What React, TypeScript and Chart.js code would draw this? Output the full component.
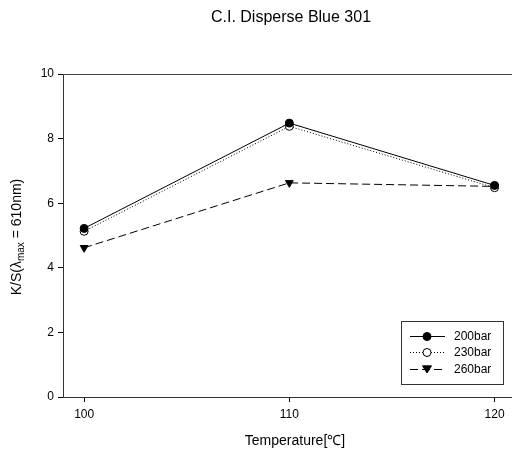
import React, { useEffect, useRef } from "react";
import { Chart, registerables } from "chart.js";

Chart.register(...registerables);

const temperatures = [100, 110, 120];
const bar200 = [5.22, 8.48, 6.55];
const bar230 = [5.13, 8.38, 6.48];
const bar260 = [4.62, 6.63, 6.52];
const seriesLabels = ["200bar", "230bar", "260bar"];
const xTicks = [100, 110, 120];

const FONT = "Arial, 'Liberation Sans', sans-serif";

const decorPlugin = {
  id: "decor",
  afterDraw(chart: any) {
    const ctx = chart.ctx as CanvasRenderingContext2D;
    const ca = chart.chartArea;
    ctx.save();
    // top border
    ctx.strokeStyle = "#444";
    ctx.lineWidth = 1;
    ctx.beginPath();
    ctx.moveTo(ca.left, Math.round(ca.top) + 0.5);
    ctx.lineTo(chart.width, Math.round(ca.top) + 0.5);
    ctx.stroke();

    // title
    ctx.fillStyle = "#000";
    ctx.font = `16px ${FONT}`;
    ctx.textAlign = "center";
    ctx.textBaseline = "middle";
    ctx.fillText("C.I. Disperse Blue 301", 291, 18);

    // x title
    ctx.font = `14px ${FONT}`;
    ctx.fillText("Temperature[℃]", 295, 441);

    // y title with subscript
    ctx.save();
    ctx.translate(16, 237);
    ctx.rotate(-Math.PI / 2);
    const p1 = "K/S(λ";
    const p2 = "max";
    const p3 = " = 610nm)";
    ctx.font = `14px ${FONT}`;
    const w1 = ctx.measureText(p1).width;
    const w3 = ctx.measureText(p3).width;
    ctx.font = `10px ${FONT}`;
    const w2 = ctx.measureText(p2).width;
    const total = w1 + w2 + w3;
    let x = -total / 2;
    ctx.textAlign = "left";
    ctx.textBaseline = "alphabetic";
    ctx.font = `14px ${FONT}`;
    ctx.fillText(p1, x, 5);
    x += w1;
    ctx.font = `10px ${FONT}`;
    ctx.fillText(p2, x, 8);
    x += w2;
    ctx.font = `14px ${FONT}`;
    ctx.fillText(p3, x, 5);
    ctx.restore();

    // legend
    const bx = 401.5, by = 321.5, bw = 102, bh = 63;
    ctx.strokeStyle = "#333";
    ctx.lineWidth = 1;
    ctx.strokeRect(bx, by, bw, bh);
    const rows = [336, 352, 369];
    chart.data.datasets.forEach((ds: any, i: number) => {
      const y = rows[i];
      ctx.save();
      ctx.strokeStyle = ds.borderColor;
      ctx.lineWidth = ds.borderWidth;
      ctx.setLineDash(ds.borderDash || []);
      ctx.beginPath();
      ctx.moveTo(410, y + 0.5);
      ctx.lineTo(445, y + 0.5);
      ctx.stroke();
      ctx.restore();
      ctx.save();
      ctx.fillStyle = ds.pointBackgroundColor;
      ctx.strokeStyle = ds.pointBorderColor;
      ctx.lineWidth = 1;
      if (ds.pointStyle === "triangle") {
        const r = 4.5;
        ctx.beginPath();
        ctx.moveTo(427 - r, y - r * 0.7);
        ctx.lineTo(427 + r, y - r * 0.7);
        ctx.lineTo(427, y + r * 0.9);
        ctx.closePath();
        ctx.fill();
        ctx.stroke();
      } else {
        ctx.beginPath();
        ctx.arc(427, y + 0.5, 4, 0, Math.PI * 2);
        ctx.fill();
        ctx.stroke();
      }
      ctx.restore();
      ctx.fillStyle = "#000";
      ctx.font = `12px ${FONT}`;
      ctx.textAlign = "left";
      ctx.textBaseline = "middle";
      ctx.fillText(ds.label, 454, y + 1);
    });
    ctx.restore();
  },
};

export default function App() {
  const ref = useRef<HTMLCanvasElement>(null);
  useEffect(() => {
    if (!ref.current) return;
    const mk = (vals: number[]) => temperatures.map((t, i) => ({ x: t, y: vals[i] }));
    const chart = new Chart(ref.current, {
      type: "line",
      data: {
        datasets: [
          {
            label: seriesLabels[0],
            data: mk(bar200),
            borderColor: "#000",
            borderWidth: 1,
            pointStyle: "circle",
            pointRadius: 4,
            pointBackgroundColor: "#000",
            pointBorderColor: "#000",
          },
          {
            label: seriesLabels[1],
            data: mk(bar230),
            borderColor: "#000",
            borderWidth: 1,
            borderDash: [1, 2],
            pointStyle: "circle",
            pointRadius: 4,
            pointBackgroundColor: "#fff",
            pointBorderColor: "#000",
          },
          {
            label: seriesLabels[2],
            data: mk(bar260),
            borderColor: "#000",
            borderWidth: 1,
            borderDash: [8, 4],
            pointStyle: "triangle",
            rotation: 180,
            pointRadius: 4.5,
            pointBackgroundColor: "#000",
            pointBorderColor: "#000",
          } as any,
        ],
      },
      options: {
        animation: false,
        responsive: false,
        layout: { autoPadding: false, padding: { top: 74, right: 0, left: 0, bottom: 0 } },
        plugins: { legend: { display: false }, tooltip: { enabled: false }, title: { display: false } },
        scales: {
          x: {
            type: "linear",
            min: 98.97,
            max: 120.85,
            afterBuildTicks: (s: any) => {
              s.ticks = xTicks.map((v) => ({ value: v }));
            },
            afterFit: (s: any) => {
              s.height = 55;
              s.paddingRight = 0;
              s.paddingLeft = 0;
            },
            grid: { drawOnChartArea: false, drawTicks: true, tickLength: 5, color: "#000" },
            border: { display: true, color: "#333", width: 1 },
            ticks: { color: "#000", font: { family: FONT, size: 12 }, padding: 5, maxRotation: 0 },
          },
          y: {
            min: 0,
            max: 10,
            afterFit: (s: any) => {
              s.width = 63;
              s.paddingTop = 0;
              s.paddingBottom = 0;
            },
            grid: { drawOnChartArea: false, drawTicks: true, tickLength: 5, color: "#000" },
            border: { display: true, color: "#333", width: 1 },
            ticks: { stepSize: 2, color: "#000", font: { family: FONT, size: 12 }, padding: 4 },
          },
        },
      } as any,
      plugins: [decorPlugin],
    });
    return () => chart.destroy();
  }, []);
  return (
    <div style={{ position: "fixed", left: 0, top: 0, width: 512, height: 452, background: "#fff" }}>
      <canvas ref={ref} width={512} height={452} style={{ width: 512, height: 452 }} />
    </div>
  );
}
